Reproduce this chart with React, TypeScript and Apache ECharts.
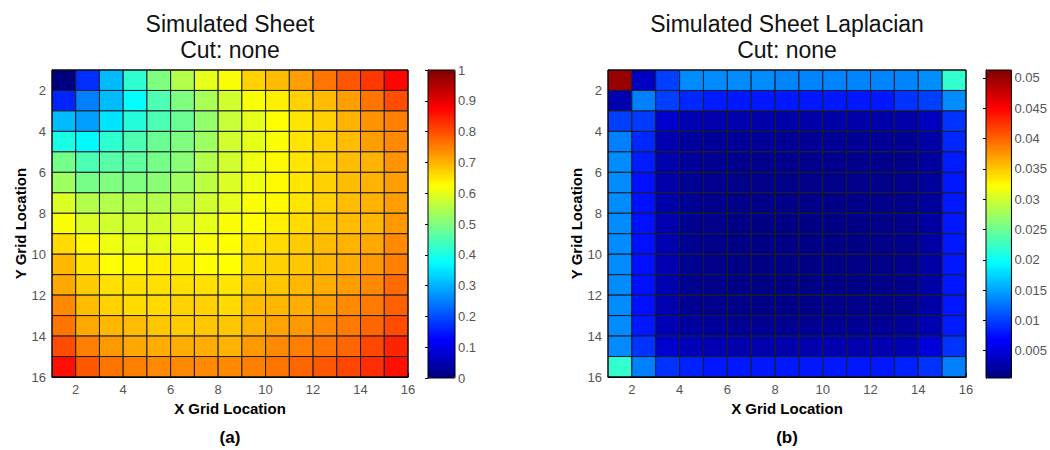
import React, { useEffect, useRef } from 'react';
import * as echarts from 'echarts';

const FONT = '"Liberation Sans", Arial, sans-serif';

// axis ticks
const gridTicks = [2, 4, 6, 8, 10, 12, 14, 16];
const sheetBarTicks = [0, 0.1, 0.2, 0.3, 0.4, 0.5, 0.6, 0.7, 0.8, 0.9, 1];
const lapBarTicks = [0.005, 0.01, 0.015, 0.02, 0.025, 0.03, 0.035, 0.04, 0.045, 0.05];

// colour ranges (caxis)
const sheetRange = [0, 1];
const lapRange = [0.0005, 0.0513];

// titles
const sheetTitle = ['Simulated Sheet', 'Cut: none'];
const lapTitle = ['Simulated Sheet Laplacian', 'Cut: none'];
const panelLabels = ['(a)', '(b)'];

// cell values, rows top (y=1) to bottom (y=15), columns x=1..15
const sheetValues = [
  [0.00, 0.17, 0.31, 0.42, 0.50, 0.55, 0.60, 0.62, 0.67, 0.69, 0.72, 0.76, 0.79, 0.82, 0.87],
  [0.16, 0.25, 0.31, 0.375, 0.45, 0.50, 0.54, 0.58, 0.62, 0.64, 0.67, 0.69, 0.72, 0.76, 0.80],
  [0.31, 0.28, 0.35, 0.41, 0.45, 0.48, 0.52, 0.57, 0.60, 0.625, 0.65, 0.67, 0.70, 0.73, 0.75],
  [0.40, 0.37, 0.42, 0.45, 0.48, 0.50, 0.53, 0.58, 0.60, 0.62, 0.65, 0.67, 0.69, 0.72, 0.74],
  [0.49, 0.45, 0.46, 0.47, 0.49, 0.51, 0.55, 0.58, 0.61, 0.63, 0.65, 0.67, 0.69, 0.70, 0.73],
  [0.53, 0.49, 0.50, 0.50, 0.51, 0.53, 0.56, 0.59, 0.61, 0.63, 0.65, 0.67, 0.69, 0.70, 0.72],
  [0.59, 0.55, 0.55, 0.55, 0.55, 0.56, 0.58, 0.60, 0.62, 0.63, 0.65, 0.67, 0.69, 0.70, 0.72],
  [0.62, 0.59, 0.58, 0.58, 0.58, 0.59, 0.60, 0.62, 0.625, 0.64, 0.66, 0.68, 0.69, 0.695, 0.725],
  [0.66, 0.63, 0.61, 0.60, 0.60, 0.61, 0.62, 0.625, 0.65, 0.66, 0.675, 0.69, 0.70, 0.71, 0.74],
  [0.695, 0.65, 0.625, 0.63, 0.64, 0.64, 0.625, 0.625, 0.66, 0.67, 0.68, 0.695, 0.705, 0.725, 0.75],
  [0.71, 0.675, 0.655, 0.655, 0.655, 0.655, 0.655, 0.65, 0.675, 0.68, 0.695, 0.705, 0.72, 0.74, 0.77],
  [0.74, 0.69, 0.67, 0.66, 0.66, 0.67, 0.67, 0.66, 0.69, 0.695, 0.705, 0.72, 0.74, 0.755, 0.78],
  [0.76, 0.71, 0.695, 0.69, 0.68, 0.675, 0.68, 0.68, 0.70, 0.715, 0.725, 0.74, 0.755, 0.775, 0.80],
  [0.80, 0.75, 0.725, 0.71, 0.705, 0.705, 0.705, 0.70, 0.725, 0.74, 0.75, 0.76, 0.775, 0.805, 0.84],
  [0.86, 0.79, 0.76, 0.75, 0.74, 0.74, 0.74, 0.74, 0.75, 0.76, 0.775, 0.79, 0.805, 0.83, 0.86],
];

const lapValues = [
  [0.0500, 0.0037, 0.0100, 0.0138, 0.0138, 0.0138, 0.0138, 0.0135, 0.0135, 0.0135, 0.0135, 0.0135, 0.0135, 0.0140, 0.0220],
  [0.0030, 0.0132, 0.0100, 0.0088, 0.0082, 0.0080, 0.0080, 0.0080, 0.0080, 0.0080, 0.0080, 0.0080, 0.0094, 0.0100, 0.0138],
  [0.0100, 0.0098, 0.0043, 0.0031, 0.0028, 0.0028, 0.0026, 0.0026, 0.0026, 0.0026, 0.0026, 0.0026, 0.0026, 0.0037, 0.0094],
  [0.0132, 0.0088, 0.0030, 0.0021, 0.0018, 0.0018, 0.0018, 0.0016, 0.0016, 0.0016, 0.0016, 0.0016, 0.0016, 0.0026, 0.0088],
  [0.0138, 0.0082, 0.0028, 0.0018, 0.0014, 0.0012, 0.0012, 0.0012, 0.0012, 0.0012, 0.0012, 0.0012, 0.0012, 0.0021, 0.0082],
  [0.0138, 0.0076, 0.0027, 0.0015, 0.0012, 0.0010, 0.0010, 0.0010, 0.0010, 0.0010, 0.0010, 0.0010, 0.0012, 0.0020, 0.0080],
  [0.0138, 0.0076, 0.0027, 0.0015, 0.0012, 0.0010, 0.0009, 0.0009, 0.0009, 0.0009, 0.0009, 0.0010, 0.0012, 0.0020, 0.0080],
  [0.0138, 0.0076, 0.0030, 0.0014, 0.0011, 0.0009, 0.0008, 0.0008, 0.0008, 0.0008, 0.0009, 0.0010, 0.0012, 0.0022, 0.0080],
  [0.0138, 0.0076, 0.0030, 0.0014, 0.0010, 0.0009, 0.0008, 0.0008, 0.0008, 0.0008, 0.0009, 0.0010, 0.0012, 0.0024, 0.0080],
  [0.0138, 0.0076, 0.0030, 0.0014, 0.0010, 0.0009, 0.0008, 0.0008, 0.0008, 0.0008, 0.0009, 0.0010, 0.0012, 0.0024, 0.0080],
  [0.0138, 0.0076, 0.0030, 0.0014, 0.0011, 0.0009, 0.0008, 0.0008, 0.0008, 0.0009, 0.0009, 0.0010, 0.0012, 0.0025, 0.0080],
  [0.0138, 0.0076, 0.0030, 0.0015, 0.0012, 0.0010, 0.0009, 0.0009, 0.0009, 0.0010, 0.0010, 0.0011, 0.0013, 0.0026, 0.0080],
  [0.0138, 0.0080, 0.0033, 0.0021, 0.0018, 0.0016, 0.0015, 0.0015, 0.0015, 0.0016, 0.0016, 0.0017, 0.0019, 0.0031, 0.0082],
  [0.0138, 0.0094, 0.0043, 0.0033, 0.0030, 0.0028, 0.0028, 0.0028, 0.0028, 0.0028, 0.0028, 0.0030, 0.0031, 0.0050, 0.0094],
  [0.0220, 0.0132, 0.0094, 0.0085, 0.0080, 0.0080, 0.0080, 0.0080, 0.0080, 0.0080, 0.0080, 0.0080, 0.0085, 0.0094, 0.0132],
];

const JET = ['#00007F', '#0000FF', '#007FFF', '#00FFFF', '#7FFF7F', '#FFFF00', '#FF7F00', '#FF0000', '#7F0000'];

function toCells(m: number[][]) {
  const out: number[][] = [];
  m.forEach((row, r) => row.forEach((v, c) => out.push([c + 1, r + 1, v])));
  return out;
}

const renderCell = (params: any, api: any) => {
  const x = api.value(0);
  const y = api.value(1);
  const p0 = api.coord([x, y]);
  const p1 = api.coord([x + 1, y + 1]);
  return {
    type: 'rect',
    shape: { x: p0[0], y: p0[1], width: p1[0] - p0[0], height: p1[1] - p0[1] },
    style: { fill: api.visual('color'), stroke: '#1c1c28', lineWidth: 1 },
  };
};

const LABEL_COLOR = '#555';

function mainX(gridIndex: number) {
  return {
    gridIndex, type: 'value', min: 1, max: 16, position: 'bottom',
    splitLine: { show: false },
    axisLine: { show: true, lineStyle: { color: '#000', width: 1 } },
    axisTick: { show: true, inside: true, length: 4, customValues: gridTicks, lineStyle: { color: '#000' } },
    axisLabel: { customValues: gridTicks, color: LABEL_COLOR, fontSize: 13, margin: 6, fontFamily: FONT },
    name: 'X Grid Location', nameLocation: 'middle', nameGap: 22,
    nameTextStyle: { fontWeight: 'bold', fontSize: 15, color: '#000', fontFamily: FONT },
  };
}
function mainY(gridIndex: number) {
  return {
    gridIndex, type: 'value', min: 1, max: 16, inverse: true, position: 'left',
    splitLine: { show: false },
    axisLine: { show: true, lineStyle: { color: '#000', width: 1 } },
    axisTick: { show: true, inside: true, length: 4, customValues: gridTicks, lineStyle: { color: '#000' } },
    axisLabel: { customValues: gridTicks, color: LABEL_COLOR, fontSize: 13, margin: 6, fontFamily: FONT },
    name: 'Y Grid Location', nameLocation: 'middle', nameGap: 22,
    nameTextStyle: { fontWeight: 'bold', fontSize: 15, color: '#000', fontFamily: FONT },
  };
}
function barX(gridIndex: number) {
  return { gridIndex, type: 'value', min: 0, max: 1, show: false };
}

export default function App() {
  const ref = useRef<HTMLDivElement>(null);
  useEffect(() => {
    if (!ref.current) return;
    const chart = echarts.init(ref.current, undefined, { renderer: 'svg' });
    const gridBase = { show: true, borderColor: '#000', borderWidth: 1, backgroundColor: 'transparent', z: 5 };
    chart.setOption({
      animation: false,
      textStyle: { fontFamily: FONT },
      grid: [
        { ...gridBase, left: 52, top: 70, width: 356, height: 307 },
        { ...gridBase, left: 428, top: 70, width: 27, height: 308 },
        { ...gridBase, left: 608, top: 70, width: 358, height: 307 },
        { ...gridBase, left: 986, top: 70, width: 26, height: 308 },
      ],
      xAxis: [mainX(0), barX(1), mainX(2), barX(3)],
      yAxis: [
        mainY(0),
        {
          gridIndex: 1, type: 'value', min: sheetRange[0], max: sheetRange[1], interval: 0.1, position: 'right',
          splitLine: { show: false },
          axisLine: { show: true, lineStyle: { color: '#000' } },
          axisTick: { show: true, inside: true, length: 3, customValues: sheetBarTicks, lineStyle: { color: '#000' } },
          axisLabel: { customValues: sheetBarTicks, color: LABEL_COLOR, fontSize: 13, margin: 3, fontFamily: FONT },
        },
        mainY(2),
        {
          gridIndex: 3, type: 'value', min: lapRange[0], max: lapRange[1], position: 'right',
          splitLine: { show: false },
          axisLine: { show: true, lineStyle: { color: '#000' } },
          axisTick: { show: true, inside: true, length: 3, customValues: lapBarTicks, lineStyle: { color: '#000' } },
          axisLabel: { customValues: lapBarTicks, color: LABEL_COLOR, fontSize: 13, margin: 3, fontFamily: FONT },
        },
      ],
      visualMap: [
        {
          type: 'continuous', seriesIndex: 0, dimension: 2, min: sheetRange[0], max: sheetRange[1],
          inRange: { color: JET }, calculable: false, hoverLink: false, orient: 'vertical',
          left: 428, top: 70, itemWidth: 27, itemHeight: 308, padding: 0, text: null,
          textStyle: { color: 'transparent' },
        },
        {
          type: 'continuous', seriesIndex: 1, dimension: 2, min: lapRange[0], max: lapRange[1],
          inRange: { color: JET }, calculable: false, hoverLink: false, orient: 'vertical',
          left: 986, top: 70, itemWidth: 26, itemHeight: 308, padding: 0, text: null,
          textStyle: { color: 'transparent' },
        },
      ],
      series: [
        { type: 'custom', xAxisIndex: 0, yAxisIndex: 0, data: toCells(sheetValues), renderItem: renderCell, encode: { x: 0, y: 1 } },
        { type: 'custom', xAxisIndex: 2, yAxisIndex: 2, data: toCells(lapValues), renderItem: renderCell, encode: { x: 0, y: 1 } },
      ],
      graphic: [
        { type: 'text', x: 230, y: 24, style: { text: sheetTitle[0], font: `23px ${FONT}`, fill: '#111', align: 'center', verticalAlign: 'middle' } },
        { type: 'text', x: 230, y: 50, style: { text: sheetTitle[1], font: `23px ${FONT}`, fill: '#111', align: 'center', verticalAlign: 'middle' } },
        { type: 'text', x: 787, y: 24, style: { text: lapTitle[0], font: `23px ${FONT}`, fill: '#111', align: 'center', verticalAlign: 'middle' } },
        { type: 'text', x: 787, y: 50, style: { text: lapTitle[1], font: `23px ${FONT}`, fill: '#111', align: 'center', verticalAlign: 'middle' } },
        { type: 'text', x: 230, y: 437, style: { text: panelLabels[0], font: `bold 17px ${FONT}`, fill: '#000', align: 'center', verticalAlign: 'middle' } },
        { type: 'text', x: 787, y: 437, style: { text: panelLabels[1], font: `bold 17px ${FONT}`, fill: '#000', align: 'center', verticalAlign: 'middle' } },
      ],
    });
    return () => chart.dispose();
  }, []);
  return <div ref={ref} style={{ position: 'absolute', left: 0, top: 0, width: 1050, height: 450, background: '#fff' }} />;
}
